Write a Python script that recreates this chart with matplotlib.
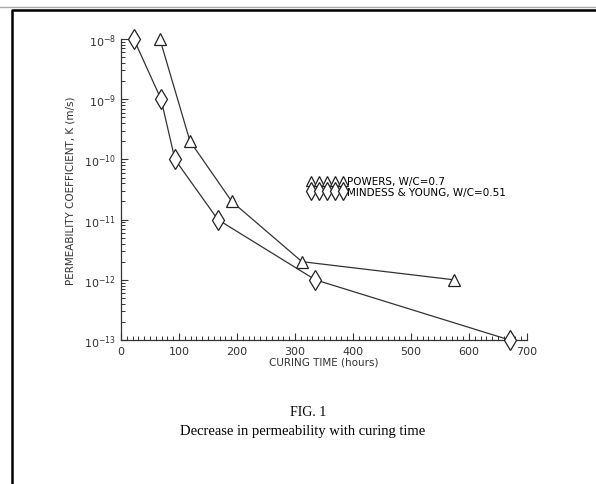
import numpy as np
import matplotlib
matplotlib.use('Agg')
import matplotlib.pyplot as plt
from matplotlib.lines import Line2D
from matplotlib.ticker import LogLocator, MultipleLocator

# data
powers_t = [67, 119, 191, 312, 574]
powers_k = [1e-8, 2e-10, 2e-11, 2e-12, 1e-12]

mindess_t = [22, 69, 93, 167, 335, 670]
mindess_k = [1e-8, 1e-9, 1e-10, 1e-11, 1e-12, 1e-13]

labels = ['POWERS, W/C=0.7', 'MINDESS & YOUNG, W/C=0.51']

fig = plt.figure(figsize=(5.96, 4.85), dpi=100)
ax = fig.add_axes([121/596, 1 - 341/485, 406/596, 301/485])

ax.plot(powers_t, powers_k, color='#333333', lw=0.9, marker='^', ms=8,
        mfc='white', mec='#222222', mew=0.9, clip_on=False, zorder=3)
ax.plot(mindess_t, mindess_k, color='#333333', lw=0.9, marker='d', ms=10,
        mfc='white', mec='#222222', mew=0.9, clip_on=False, zorder=3)

ax.set_yscale('log')
ax.set_xlim(0, 700)
ax.set_ylim(1e-13, 1e-8)
ax.yaxis.set_major_locator(LogLocator(base=10, numticks=10))
ax.yaxis.set_minor_locator(LogLocator(base=10, subs=np.arange(2, 10), numticks=10))
ax.xaxis.set_major_locator(MultipleLocator(100))
ax.xaxis.set_minor_locator(MultipleLocator(10))

for s in ['top', 'right']:
    ax.spines[s].set_visible(False)
for s in ['left', 'bottom']:
    ax.spines[s].set_linewidth(0.9)
    ax.spines[s].set_color('#333333')

ax.tick_params(which='both', direction='in', colors='#333333', labelsize=8)
ax.tick_params(which='major', length=5, width=0.8)
ax.tick_params(which='minor', length=3, width=0.7)
ax.tick_params(axis='x', pad=4)

ax.set_xlabel('CURING TIME (hours)', fontsize=7.5, color='#333333', labelpad=1)
ax.set_ylabel('PERMEABILITY COEFFICIENT, K (m/s)', fontsize=7.5, color='#333333', labelpad=6)

handles = [Line2D([], [], ls='none', marker='^', ms=7, mfc='white', mec='#222222', mew=0.9),
           Line2D([], [], ls='none', marker='d', ms=9, mfc='white', mec='#222222', mew=0.9)]
fig.legend(handles, labels, loc='upper left', bbox_to_anchor=(303/596, 1 - 172/485),
           frameon=False, numpoints=5, handlelength=3.6, handletextpad=0.15,
           labelspacing=0.05, fontsize=7.5, borderpad=0)

# caption
fig.text(308/596, 1 - 413/485, 'FIG. 1', ha='center', va='center',
         family='Liberation Serif', fontsize=10)
fig.text(303/596, 1 - 432/485, 'Decrease in permeability with curing time',
         ha='center', va='center', family='Liberation Serif', fontsize=10.5)

# page frame
fig.add_artist(Line2D([0, 1], [1 - 8/485, 1 - 8/485], transform=fig.transFigure,
                      color='#aaaaaa', lw=1))
fig.add_artist(Line2D([12/596, 12/596, 1], [0, 1 - 11/485, 1 - 11/485],
                      transform=fig.transFigure, color='black', lw=1.8))

fig.savefig('out.png', dpi=100)
